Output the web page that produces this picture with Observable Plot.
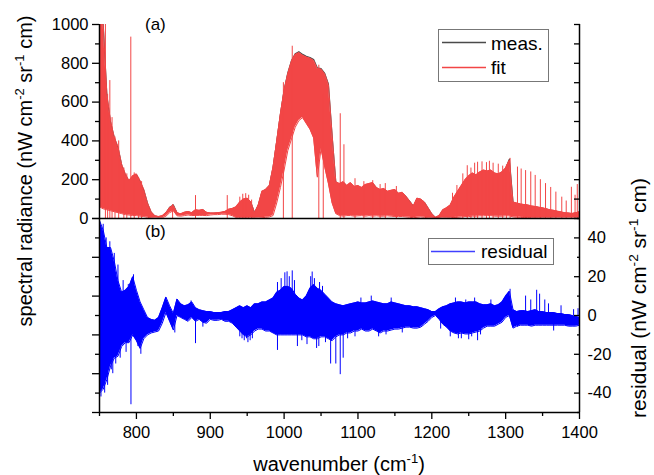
<!DOCTYPE html>
<html><head><meta charset="utf-8">
<script src="https://cdn.jsdelivr.net/npm/d3@7"></script>
<script src="https://cdn.jsdelivr.net/npm/@observablehq/plot@0.6"></script>
<style>
body{margin:0;background:#fff;}
#wrap{position:relative;width:654px;height:475px;font-family:"Liberation Sans",Arial,sans-serif;background:#fff;}
#wrap > svg{display:block;}
#overlay{position:absolute;left:0;top:0;}
</style></head><body><div id="wrap"></div>
<script>
// ---- data ----
const wavenumber = [
750,755,760,765,770,775,780,785,790,795,
800,805,810,815,820,825,830,835,840,845,
850,855,860,865,870,875,880,885,890,895,
900,905,910,915,920,925,930,935,940,945,
950,955,960,965,970,975,980,985,990,995,
1000,1005,1010,1015,1020,1025,1030,1035,1040,1045,
1050,1055,1060,1065,1070,1075,1080,1085,1090,1095,
1100,1105,1110,1115,1120,1125,1130,1135,1140,1145,
1150,1155,1160,1165,1170,1175,1180,1185,1190,1195,
1200,1205,1210,1215,1220,1225,1230,1235,1240,1245,
1250,1255,1260,1265,1270,1275,1280,1285,1290,1295,
1300,1305,1310,1315,1320,1325,1330,1335,1340,1345,
1350,1355,1360,1365,1370,1375,1380,1385,1390,1395,
1400];
// fit spectrum: upper / lower envelope of the dense line spectrum
const fitHi = [
1000,1000,640,500,420,370,280,230,195,220,
230,195,150,80,35,14,10,14,30,55,
68,30,24,32,36,30,45,42,46,32,
28,28,30,32,36,48,52,60,85,100,
105,85,30,70,140,150,170,265,400,540,
660,746,810,845,855,842,832,826,815,772,
770,746,690,430,190,180,190,170,185,165,
170,160,175,180,185,160,150,155,140,145,
150,130,135,115,90,65,105,100,85,55,
25,6,15,45,55,70,110,140,170,200,
220,235,225,240,250,245,250,235,230,240,
260,300,85,80,75,72,70,65,62,58,
55,50,45,42,38,34,30,28,26,30,
35];
const fitLo = [
60,50,45,40,35,30,25,20,18,15,
15,12,10,6,3,2,2,4,12,30,
40,14,12,15,18,15,16,16,16,15,
18,20,20,22,22,20,14,5,2,1,
1,2,1,2,4,6,8,15,80,160,
250,350,410,470,505,520,490,460,415,213,
360,265,180,80,25,15,12,15,15,12,
14,15,12,15,12,14,12,12,14,12,
10,10,10,8,6,4,6,8,6,3,
1,0,0,2,3,4,5,6,8,10,
10,12,12,14,14,15,15,12,12,12,
14,14,8,6,6,5,5,4,4,4,
3,3,3,2,2,2,2,2,2,2,
2];
// measured spectrum, upper envelope
const measHi = [
1000,1000,630,495,415,365,275,225,190,215,
225,190,145,78,30,12,8,12,28,58,
70,28,22,30,34,28,42,40,44,30,
26,26,28,30,34,45,50,58,82,98,
102,82,28,68,136,148,168,260,396,536,
662,750,814,849,860,846,836,830,819,776,
773,748,692,425,185,176,186,166,180,160,
166,156,170,176,180,156,146,150,136,140,
146,126,130,112,88,62,102,98,82,52,
22,4,13,42,52,66,106,136,166,196,
216,230,222,236,246,242,246,232,228,238,
258,306,82,76,72,70,66,62,60,56,
52,48,42,40,36,32,28,26,24,28,
32];
// isolated lines rising above the fit envelope
const fitSpikeWn = [758,761,764,767,771,776,783,787,792.4,797,803,807,849,880,923,940,944,948,952,956,999,1011,1047,1053,1076,1081,1096,1108,1120,1130,1137,1152,1228,1234,1242,1248,1253,1258,1262,1268,1274,1278,1283,1290,1296,1301,1306,1316,1321,1327,1334,1340,1347,1354,1361,1368,1376,1382,1389,1394,1397];
const fitSpikeVal = [1000,640,711,520,420,400,260,230,935,235,210,190,72,118,118,110,125,128,120,95,700,888,790,640,540,380,205,190,195,175,180,165,130,170,230,272,260,285,290,292,288,295,285,280,270,275,310,265,255,247,240,222,200,180,160,136,110,90,161,120,175];
// residual: upper / lower envelope
const resHi = [
49,44,35,35,28,18,12,13,15,20,
13,7,3,-1,-2,-2.5,-1,4,9.5,5,
1,8.5,6,5,5.5,7,4,3,2.5,2,
2,1.5,1.5,1.5,2,2,3,4,5,4,
5,4,6,6,7,7,8,9,12,13,
15,15,14,11,9,8,10,14,16,14,
13,11,9,7,6,5.5,5,5.5,6,6.5,
7,6.5,6.5,7,7.5,7,6.5,6,6,7,
6.5,6,5.5,5,5,4.5,4.5,4,3.5,3,
2,2,3.5,4.5,5,6,6.5,7,7,6.5,
7,7,7,6,5.5,5.5,6,5,5.5,7,
10,12.5,3,2,2.5,2.5,2,2.5,3,2,
2,1.5,1.5,1.5,1,1,0.5,0.5,0,-0.5,
-1];
const resLo = [
-40,-38,-33,-26,-22,-21,-16,-14,-14,-10,
-13,-17,-12,-10,-9,-8.5,-8,-4,1.5,-3,
-7.5,0,-1,-2,-3,-1,-3,-2,-3.5,-4,
-2,-2.5,-2.5,-2,-3,-3,-4,-6,-8,-10,
-11,-10,-8,-7,-7,-8,-8,-9,-10,-10,
-10,-10,-10,-10,-10,-10,-11,-11,-12,-12,
-11,-11,-12,-13,-11,-10,-10,-9,-9,-8,
-8,-7,-8,-8,-7,-8,-9,-8,-8,-7.5,
-7,-7,-6.5,-6,-6,-6.5,-6.5,-6,-4.5,-3,
-1,0,-2,-4.5,-6,-8,-9,-9.5,-9,-9.5,
-9.5,-9,-8.5,-8,-6.5,-5.5,-5.5,-5.5,-4.5,-3.5,
-1,0,-6.5,-5.5,-5,-5,-5,-5.5,-5,-5,
-5,-5,-5,-5,-5,-5,-5,-5.5,-5.5,-5.5,
-5];
// isolated residual lines
const resSpikeWn = [752,755,757,759,761,764,766,768,770,772,775,778,782,786,789,792.6,796,802,806,852,874,880,890,940,943,946,949,951,954,957,991,991,996,1001,1004,1007,1011,1014,1018,1024,1031,1036,1038,1041,1044,1047,1048,1052,1056,1063,1070,1076,1080,1086,1096,1104,1118,1128,1138,1145,1160,1212,1225,1232,1236,1240,1246,1250,1254,1258,1262,1266,1280,1306,1316,1327,1334,1342,1346,1353,1358,1365,1375,1392,1398];
const resSpikeVal = [-42,47,-40,40,-36,38,-28,-30,32,-25,26,-22,18,-19,16,-46,21,-16,-20,-9,7.5,-14.5,-6,-11,-12,-13,-12,-14,-13,-12,17,-18,19,22,22.5,20,23,18,-16,-13,-15,20,22.4,19,-17,-16,17,15,-14,-25,-25,-30.5,-22,-12,-11,9,10,-11,-10,9,-9,-7,-11,9,-12,-12,8,-12.5,-11,9,-13,-10,8,13.5,-6,10,8,13,11,8,6,-8,5,3,3.5];
// axis ticks
const xDomain = [750, 1400];
const xMajorTicks = [800, 900, 1000, 1100, 1200, 1300, 1400];
const xMinorTicks = [750, 850, 950, 1050, 1150, 1250, 1350];
const radDomain = [0, 1000];
const radMajorTicks = [0, 200, 400, 600, 800, 1000];
const radMinorTicks = [100, 300, 500, 700, 900];
const resDomain = [-50, 50];
const resLabelTicks = [-40, -20, 0, 20, 40];
const resOddTicks = [-50, -30, -10, 10, 30, 50];

// ---- build ----
const RED = "#f24646", GREY = "#4a4a4a", BLUE = "#0000ff";
const fitRows = wavenumber.map((w, i) => ({w, hi: fitHi[i], lo: fitLo[i], meas: measHi[i]}));
const fitSpikes = fitSpikeWn.map((w, i) => ({w, v: fitSpikeVal[i]}));
const resRows = wavenumber.map((w, i) => ({w, hi: resHi[i], lo: resLo[i]}));
const resSpikes = resSpikeWn.map((w, i) => ({w, v: resSpikeVal[i]}));

const W = 654, ML = 99, MR = 75;
const style = {fontFamily: "'Liberation Sans', Arial, sans-serif", fontSize: "16.5px", color: "black", background: "transparent", overflow: "visible"};
const fmt = d => String(d);

const topPlot = Plot.plot({
  width: W, height: 218, marginLeft: ML, marginRight: MR, marginTop: 24, marginBottom: 0,
  style,
  x: {domain: xDomain, axis: null},
  y: {domain: radDomain, axis: null},
  marks: [
    Plot.lineY(fitRows, {x: "w", y: "meas", stroke: GREY, strokeWidth: 1.2, clip: true}),
    Plot.areaY(fitRows, {x: "w", y1: "lo", y2: "hi", fill: RED, clip: true}),
    Plot.lineY(fitRows, {x: "w", y: "hi", stroke: RED, strokeWidth: 1, clip: true}),
    Plot.lineY(fitRows, {x: "w", y: "lo", stroke: RED, strokeWidth: 1, clip: true}),
    Plot.ruleX(fitSpikes, {x: "w", y1: 0, y2: "v", stroke: RED, strokeWidth: 1, clip: true}),
    Plot.axisY({ticks: radMajorTicks, tickSize: 7, tickPadding: 4, tickFormat: fmt, label: null, strokeWidth: 1.3}),
    Plot.axisY({ticks: radMinorTicks, tickSize: 4, text: null, label: null, strokeWidth: 1.3}),
    Plot.axisY({anchor: "right", ticks: radMajorTicks.concat(radMinorTicks), tickSize: 6, dx: -6, text: null, label: null, strokeWidth: 1.3}),
    Plot.ruleX(xDomain, {strokeWidth: 1.5}),
    Plot.ruleY([radDomain[0]], {strokeWidth: 1.5})
  ]
});

const botPlot = Plot.plot({
  width: W, height: 257, marginLeft: ML, marginRight: MR, marginTop: 0, marginBottom: 63,
  style,
  x: {domain: xDomain},
  y: {domain: resDomain},
  marks: [
    Plot.areaY(resRows, {x: "w", y1: "lo", y2: "hi", fill: BLUE, clip: true}),
    Plot.lineY(resRows, {x: "w", y: "hi", stroke: BLUE, strokeWidth: 1, clip: true}),
    Plot.lineY(resRows, {x: "w", y: "lo", stroke: BLUE, strokeWidth: 1, clip: true}),
    Plot.ruleX(resSpikes, {x: "w", y1: 0, y2: "v", stroke: BLUE, strokeWidth: 1, clip: true}),
    Plot.axisX({ticks: xMajorTicks, tickSize: 7, tickPadding: 7, tickFormat: fmt, label: null, strokeWidth: 1.3}),
    Plot.axisX({ticks: xMinorTicks, tickSize: 4, text: null, label: null, strokeWidth: 1.3}),
    Plot.axisY({ticks: resOddTicks, tickSize: 7, text: null, label: null, strokeWidth: 1.3}),
    Plot.axisY({ticks: resLabelTicks, tickSize: 4, text: null, label: null, strokeWidth: 1.3}),
    Plot.axisY({anchor: "right", ticks: resLabelTicks, tickSize: 6, dx: -6, text: null, label: null, strokeWidth: 1.3}),
    Plot.axisY({anchor: "right", ticks: resOddTicks, tickSize: 3, dx: -3, text: null, label: null, strokeWidth: 1.3}),
    Plot.axisY({anchor: "right", ticks: resLabelTicks, tickSize: 0, tickPadding: 8, tickFormat: fmt, label: null}),
    Plot.ruleX(xDomain, {strokeWidth: 1.5}),
    Plot.ruleY([resDomain[0]], {strokeWidth: 1.5})
  ]
});

const wrap = document.getElementById("wrap");
wrap.appendChild(topPlot);
wrap.appendChild(botPlot);

// ---- overlay: axis titles, panel tags, legends ----
const ov = d3.select(wrap).append("svg").attr("id", "overlay")
  .attr("width", W).attr("height", 475)
  .style("font-family", "'Liberation Sans', Arial, sans-serif");

function supTitle(g, parts, size) {
  const t = g.append("text").attr("text-anchor", "middle").attr("font-size", size).attr("fill", "black");
  parts.forEach(p => {
    if (p.sup) t.append("tspan").attr("dy", -size * 0.38).attr("font-size", size * 0.65).text(p.sup);
    else t.append("tspan").attr("dy", p.back ? size * 0.38 : 0).text(p.t);
  });
  return t;
}
supTitle(ov.append("g").attr("transform", "translate(32,171) rotate(-90)"),
  [{t: "spectral radiance (nW cm"}, {sup: "-2"}, {t: " sr", back: true}, {sup: "-1"}, {t: " cm)", back: true}], 20);
supTitle(ov.append("g").attr("transform", "translate(646,298) rotate(-90)"),
  [{t: "residual (nW cm"}, {sup: "-2"}, {t: " sr", back: true}, {sup: "-1"}, {t: " cm)", back: true}], 21);
supTitle(ov.append("g").attr("transform", "translate(339,471)"),
  [{t: "wavenumber (cm"}, {sup: "-1"}, {t: ")", back: true}], 20);

ov.append("text").attr("x", 145).attr("y", 29.5).attr("font-size", 17).text("(a)");
ov.append("text").attr("x", 145).attr("y", 236.5).attr("font-size", 17).text("(b)");

const lg1 = ov.append("g");
lg1.append("rect").attr("x", 438.5).attr("y", 29.5).attr("width", 110).attr("height", 52)
  .attr("fill", "white").attr("stroke", "#777").attr("stroke-width", 1);
lg1.append("line").attr("x1", 442).attr("x2", 486).attr("y1", 42.5).attr("y2", 42.5).attr("stroke", GREY).attr("stroke-width", 1.3);
lg1.append("text").attr("x", 491).attr("y", 50).attr("font-size", 19).text("meas.");
lg1.append("line").attr("x1", 442).attr("x2", 486).attr("y1", 67.5).attr("y2", 67.5).attr("stroke", RED).attr("stroke-width", 1.3);
lg1.append("text").attr("x", 491).attr("y", 74).attr("font-size", 19).text("fit");

const lg2 = ov.append("g");
lg2.append("rect").attr("x", 428.5).attr("y", 238.5).attr("width", 125).attr("height", 26)
  .attr("fill", "white").attr("stroke", "#777").attr("stroke-width", 1);
lg2.append("line").attr("x1", 431).attr("x2", 475).attr("y1", 251.5).attr("y2", 251.5).attr("stroke", "#4040ff").attr("stroke-width", 1.3);
lg2.append("text").attr("x", 481).attr("y", 258).attr("font-size", 19).text("residual");
</script></body></html>
